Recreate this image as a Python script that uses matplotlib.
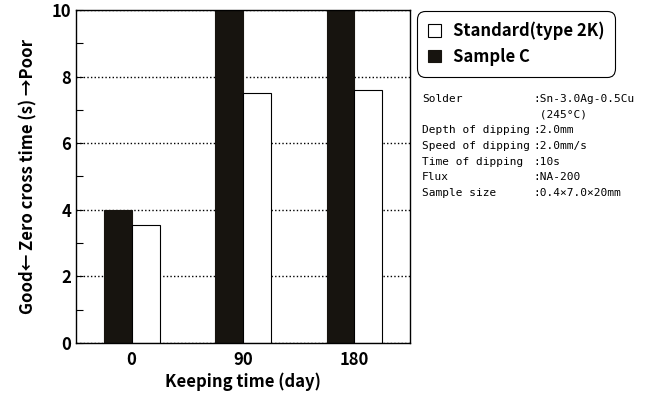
import matplotlib
matplotlib.use("Agg")
import numpy as np
import matplotlib.pyplot as plt
from matplotlib.patches import Patch

# --- data ---
days = ["0", "90", "180"]
sample_c = [4.0, 10.0, 10.0]
standard = [3.55, 7.5, 7.6]

cond_names = ["Solder", "", "Depth of dipping", "Speed of dipping",
              "Time of dipping", "Flux", "Sample size"]
cond_values = [":Sn-3.0Ag-0.5Cu", " (245°C)", ":2.0mm", ":2.0mm/s",
               ":10s", ":NA-200", ":0.4×7.0×20mm"]

bold_font = ["Noto Sans CJK JP", "DejaVu Sans"]
plain_font = ["DejaVu Sans Mono", "DejaVu Sans"]

fig = plt.figure(figsize=(6.47, 3.96), dpi=100)
ax = fig.add_axes([76 / 647, 1 - 343 / 396, 334 / 647, 333 / 396])

x = np.arange(len(days))
w = 0.25
ax.bar(x - w / 2, sample_c, w, color="#17140f", edgecolor="#17140f", lw=0.8, zorder=2)
ax.bar(x + w / 2, standard, w, color="white", edgecolor="black", lw=0.8, zorder=2)

ax.set_xlim(-0.5, 2.5)
ax.set_ylim(0, 10)
ax.set_xticks(x)
ax.set_xticklabels(days)
ax.set_yticks(np.arange(0, 11, 2))
ax.set_yticks(np.arange(1, 10, 2), minor=True)
ax.tick_params(axis="y", which="both", direction="in", length=5, width=0.8)
ax.tick_params(axis="x", length=0, pad=6)
for lab in ax.get_xticklabels() + ax.get_yticklabels():
    lab.set_fontfamily(bold_font)
    lab.set_fontweight("bold")
    lab.set_fontsize(12)

ax.set_axisbelow(True)
ax.yaxis.grid(True, which="major", linestyle=(0, (1, 1.6)), color="black", lw=1)
for s in ax.spines.values():
    s.set_linewidth(1)

ax.set_xlabel("Keeping time (day)", fontfamily=bold_font, fontweight="bold",
              fontsize=12, labelpad=2)
ax.set_ylabel("Good← Zero cross time (s) →Poor", fontfamily=bold_font,
              fontweight="bold", fontsize=12, labelpad=10)

handles = [Patch(facecolor="white", edgecolor="black", lw=0.8),
           Patch(facecolor="#17140f", edgecolor="#17140f", lw=0.8)]
leg = fig.legend(handles, ["Standard(type 2K)", "Sample C"],
                 loc="upper left", bbox_to_anchor=(417 / 647, 1 - 11 / 396),
                 borderaxespad=0,
                 prop={"family": bold_font, "weight": "bold", "size": 12},
                 handlelength=0.8, handleheight=0.8, handletextpad=0.7,
                 labelspacing=0.45, borderpad=0.65, fancybox=True,
                 framealpha=1, edgecolor="black")
leg.get_frame().set_linewidth(0.8)
leg.get_frame().set_boxstyle("round", pad=0, rounding_size=0.5)

y0 = 1 - 99 / 396
dy = 15.7 / 396
for i, (n, v) in enumerate(zip(cond_names, cond_values)):
    fig.text(422 / 647, y0 - i * dy, n, fontfamily=plain_font, fontsize=8.0,
             va="center", ha="left")
    fig.text(533 / 647, y0 - i * dy, v, fontfamily=plain_font, fontsize=8.0,
             va="center", ha="left")

fig.savefig("out.png", dpi=100)
